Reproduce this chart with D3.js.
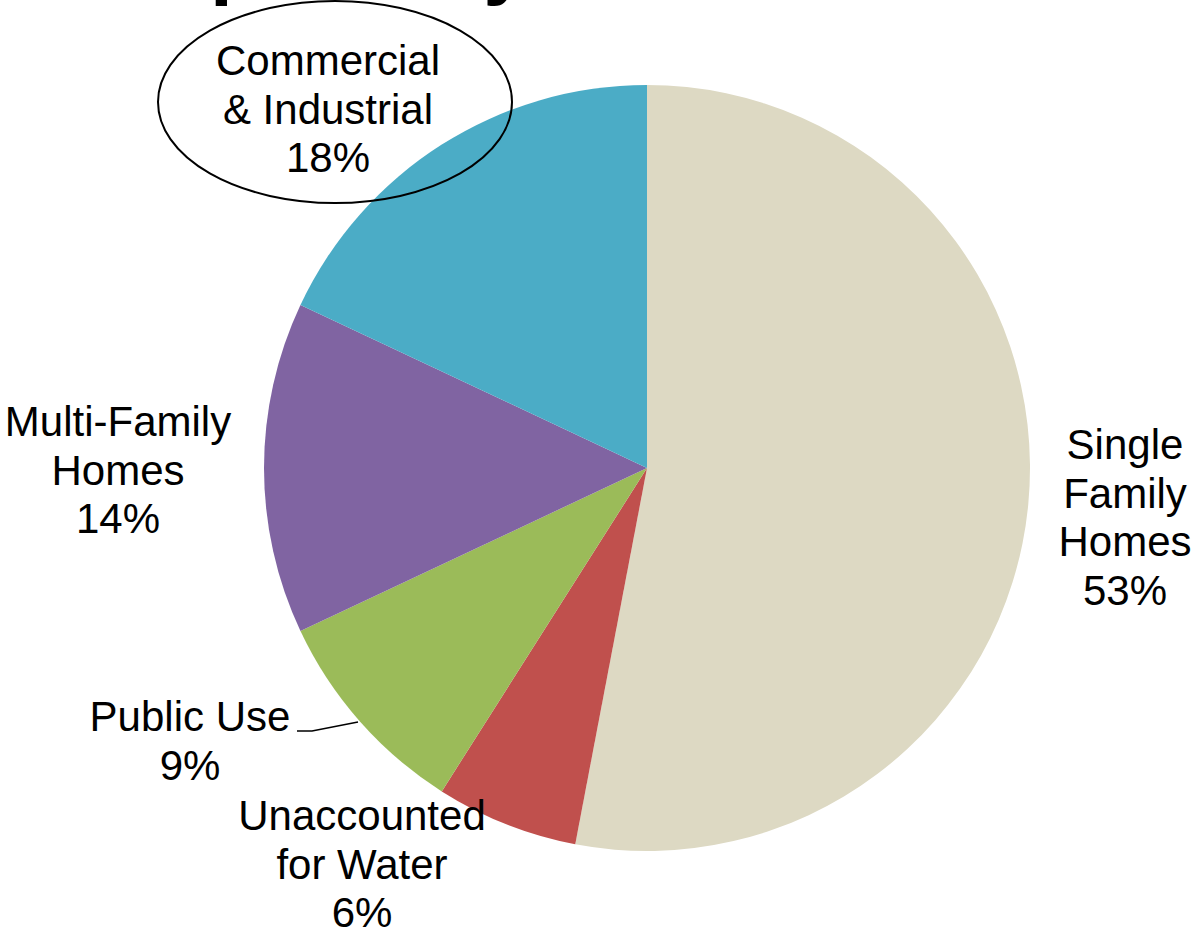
<!DOCTYPE html>
<html>
<head>
<meta charset="utf-8">
<script src="https://cdn.jsdelivr.net/npm/d3@7"></script>
<style>
  html, body { margin: 0; padding: 0; background: #fff; }
  svg { display: block; }
  text { font-family: "Liberation Sans", Arial, sans-serif; fill: #000; }
</style>
</head>
<body>
<svg id="chart" width="1194" height="931"></svg>
<script>
// Water use shares by customer category (percent)
const categories = ["Single Family Homes", "Unaccounted for Water", "Public Use", "Multi-Family Homes", "Commercial & Industrial"];
const shares = [53, 6, 9, 14, 18];
const colors = ["#DDD9C3", "#C0504D", "#9BBB59", "#8064A2", "#4BACC6"];
// Label text split into lines
const labelLines = [
  ["Single", "Family", "Homes"],
  ["Unaccounted", "for Water"],
  ["Public Use"],
  ["Multi-Family", "Homes"],
  ["Commercial", "& Industrial"]
];

const W = 1194, H = 931;
const cx = 647, cy = 468, R = 383;
const fontSize = 42, lineH = 48.5;

// Where each label block sits (centre x, first baseline y)
const labelLayout = [
  { x: 1125, y: 459 },
  { x: 362, y: 830 },
  { x: 190, y: 731 },
  { x: 118, y: 436 },
  { x: 328, y: 75 }
];

const svg = d3.select("#chart");

// Slide title, mostly above the visible area (only descenders show)
const title = svg.append("text")
  .attr("y", -11)
  .attr("font-size", 82)
  .attr("font-weight", "bold")
  .text("Water Consumption by Sector");
{
  const node = title.node();
  const idx = "Water Consum".length;
  const offset = node.getSubStringLength(0, idx);
  title.attr("x", 210 - offset);
}

const pie = d3.pie().sort(null).value(d => d.value);
const arc = d3.arc().innerRadius(0).outerRadius(R);
const data = categories.map((c, i) => ({ name: c, value: shares[i], color: colors[i], lines: labelLines[i], pos: labelLayout[i] }));

const g = svg.append("g").attr("transform", `translate(${cx},${cy})`);
g.selectAll("path.slice")
  .data(pie(data))
  .join("path")
  .attr("class", "slice")
  .attr("d", arc)
  .attr("fill", d => d.data.color);

// Labels
const labels = svg.append("g").selectAll("text.label")
  .data(data)
  .join("text")
  .attr("class", "label")
  .attr("text-anchor", "middle")
  .attr("font-size", fontSize);

labels.each(function(d) {
  const t = d3.select(this);
  const lines = d.lines.concat([d.value + "%"]);
  lines.forEach((ln, k) => {
    t.append("tspan")
      .attr("x", d.pos.x)
      .attr("y", d.pos.y + k * lineH)
      .text(ln);
  });
});

// Callout ellipse round the commercial label
svg.append("ellipse")
  .attr("cx", 335).attr("cy", 102)
  .attr("rx", 177).attr("ry", 101)
  .attr("fill", "none")
  .attr("stroke", "#000")
  .attr("stroke-width", 2);

// Leader line from the Public Use label to its slice
svg.append("path")
  .attr("d", "M297,731 L312,731 L358,722")
  .attr("fill", "none")
  .attr("stroke", "#000")
  .attr("stroke-width", 1.5);
</script>
</body>
</html>
